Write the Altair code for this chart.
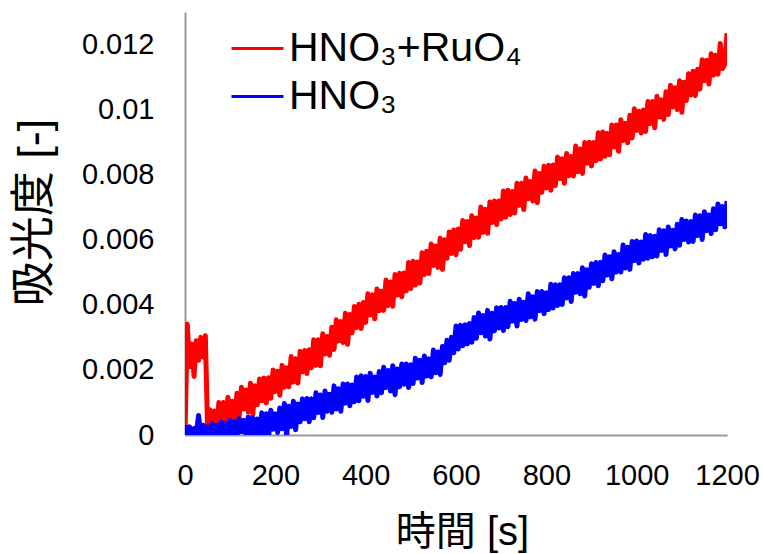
import altair as alt
import pandas as pd

# time grid [s]
times = list(range(0, 1201, 5))

# absorbance in units of 1e-5
red_1e5 = [
    0, 340, 210, 280, 180, 290, 230, 300, 240, 305, 20,
    78, 4, 74, 8, 100, 32, 100, 19, 116, 52, 104, 44, 128, 58, 147, 80, 138, 71, 159, 62,
    151, 93, 172, 105, 175, 98, 176, 113, 200, 134, 196, 122, 214, 147, 207, 148, 241, 163, 234, 160,
    257, 194, 260, 189, 262, 207, 293, 214,
    293, 213, 311, 249, 303, 245, 331, 263, 354, 289, 349, 284, 374, 279, 370, 314, 395, 330, 402, 327,
    407, 346, 434, 369, 431, 357, 449, 382, 442, 383, 476, 398, 470, 396, 493, 430, 497, 425, 498, 443,
    530, 450, 534, 461, 532, 467, 560, 493,
    565, 496, 587, 521, 581, 515, 605, 509, 600, 543, 624, 558, 630, 554, 633, 571, 659, 594, 656, 582,
    674, 607, 667, 608, 701, 623, 694, 620, 716, 653, 719, 647, 719, 664, 750, 669, 752, 678, 748, 682,
    774, 706, 774, 693, 790, 726, 779, 719,
    811, 714, 804, 746, 826, 759, 829, 752, 830, 767, 854, 788, 849, 774, 865, 797,
    856, 796, 888, 809, 879, 804, 899, 835, 900, 827, 899, 843, 929, 848, 931, 857, 927, 861, 953, 885,
    953, 872, 969, 905, 958, 898, 983, 913, 1003, 936, 995, 928,
    999, 933, 1025, 957, 1025, 944, 1041, 977, 1030, 970, 1055, 985, 1075, 1008, 1067, 1000, 1089, 992,
    1084, 1028, 1110, 1045, 1118, 1043, 1124, 1063, 1153, 1089, 1152, 1079, 1172, 1106, 1167, 1109,
    1203, 1126, 1140, 1235,
]

blue_1e5 = [
    30, 0, 25, -5, 20, 5, 60, 0, 30, -5, 25, 0, 35, 5, 30, -5, 40, 5, 35, 0,
    45, 5, 40, -5, 50, 10, 45, 0, 55, 5,
    52, -13, 49, -12, 68, 5, 65, -8, 76, 18, 65, 8, 83, 19, 97, -5, 88, 26, 104, 16,
    95, 41, 111, 50, 112, 41, 111, 53, 130, 69, 123, 54, 135, 73, 125, 70, 151, 80, 142, 73,
    157, 98, 157, 90, 154, 102, 178, 105,
    182, 119, 180, 106, 190, 131, 178, 120, 195, 130, 208, 146, 198, 135, 213, 124, 203, 148, 218, 156,
    218, 146, 216, 158, 236, 175, 230, 161, 243, 181, 234, 179, 261, 191, 255, 186, 272, 222, 291, 230,
    300, 253, 335, 264, 337, 274, 339, 280,
    343, 285, 361, 297, 375, 314, 367, 304, 383, 295, 374, 320, 391, 329, 392, 321, 392, 333, 411, 350,
    404, 335, 417, 355, 408, 352, 434, 363, 425, 356, 441, 382, 441, 373, 437, 386, 463, 390, 462, 398,
    462, 401, 483, 421, 483, 410, 496, 439,
    496, 434, 514, 427, 508, 454, 526, 466, 530, 459, 531, 474, 553, 492, 548, 480, 563, 501, 555, 501,
    584, 513, 577, 509, 595, 536, 596, 529, 593, 540, 616, 543, 613, 548, 611, 550, 631, 567, 628, 555,
    639, 581, 629, 572, 648, 583, 662, 601,
    658, 593, 656, 595, 676, 613, 674, 601, 686, 628, 676, 619, 695, 631, 710, 649, 702, 640, 719,
]

series_names = ["HNO₃+RuO₄", "HNO₃"]
series_colors = ["#ff0000", "#0000ff"]
x_ticks = [0, 200, 400, 600, 800, 1000, 1200]
y_ticks = [0, 0.002, 0.004, 0.006, 0.008, 0.01, 0.012]

assert len(red_1e5) == len(times), len(red_1e5)
assert len(blue_1e5) == len(times), len(blue_1e5)

rows = []
for t, v in zip(times, red_1e5):
    rows.append({"t": t, "A": v / 1e5, "s": series_names[0]})
for t, v in zip(times, blue_1e5):
    rows.append({"t": t, "A": v / 1e5, "s": series_names[1]})
df = pd.DataFrame(rows)

FONT = "Liberation Sans, Arial, Noto Sans CJK JP, sans-serif"

chart = (
    alt.Chart(df)
    .mark_line(strokeWidth=5, clip=True, strokeJoin="round")
    .encode(
        x=alt.X(
            "t:Q",
            scale=alt.Scale(domain=[0, 1200], nice=False),
            axis=alt.Axis(
                values=x_ticks,
                format="d",
                title="時間 [s]",
                labelPadding=26,
                labelOverlap=False,
                labelFlush=False,
                titleFontSize=40,
                titleX=277,
                titleY=97,
                titleBaseline="middle",
                titleAlign="center",
            ),
        ),
        y=alt.Y(
            "A:Q",
            scale=alt.Scale(domain=[0, 0.013], nice=False, zero=False),
            axis=alt.Axis(
                values=y_ticks,
                format="~g",
                title="吸光度 [-]",
                labelPadding=31,
                labelOverlap=False,
                labelFlush=False,
                titleFontSize=45,
                titleX=-151,
                titleY=200,
                titleAngle=270,
                titleBaseline="middle",
                titleAlign="center",
            ),
        ),
        color=alt.Color(
            "s:N",
            scale=alt.Scale(domain=series_names, range=series_colors),
            legend=alt.Legend(
                title=None,
                orient="none",
                legendX=45,
                legendY=9,
                symbolType="stroke",
                symbolSize=2704,
                symbolStrokeWidth=3,
                labelFontSize=41,
                labelFont=FONT,
                labelColor="#000000",
                labelOffset=4,
                rowPadding=-4,
                padding=0,
                labelLimit=500,
            ),
        ),
    )
    .properties(
        width=542,
        height=423,
        autosize=alt.AutoSizeParams(type="none"),
        padding={"left": 185, "top": 12, "right": 36, "bottom": 119},
        background="white",
    )
    .configure_view(stroke=None)
    .configure_axis(
        domainColor="#999999",
        domainWidth=2,
        ticks=False,
        tickSize=0,
        grid=False,
        labelFont=FONT,
        labelFontSize=29,
        labelColor="#000000",
        titleFont=FONT,
        titleFontWeight="normal",
        titleColor="#000000",
    )
)

chart.save("out.html", embed_options={"renderer": "svg", "actions": False})
